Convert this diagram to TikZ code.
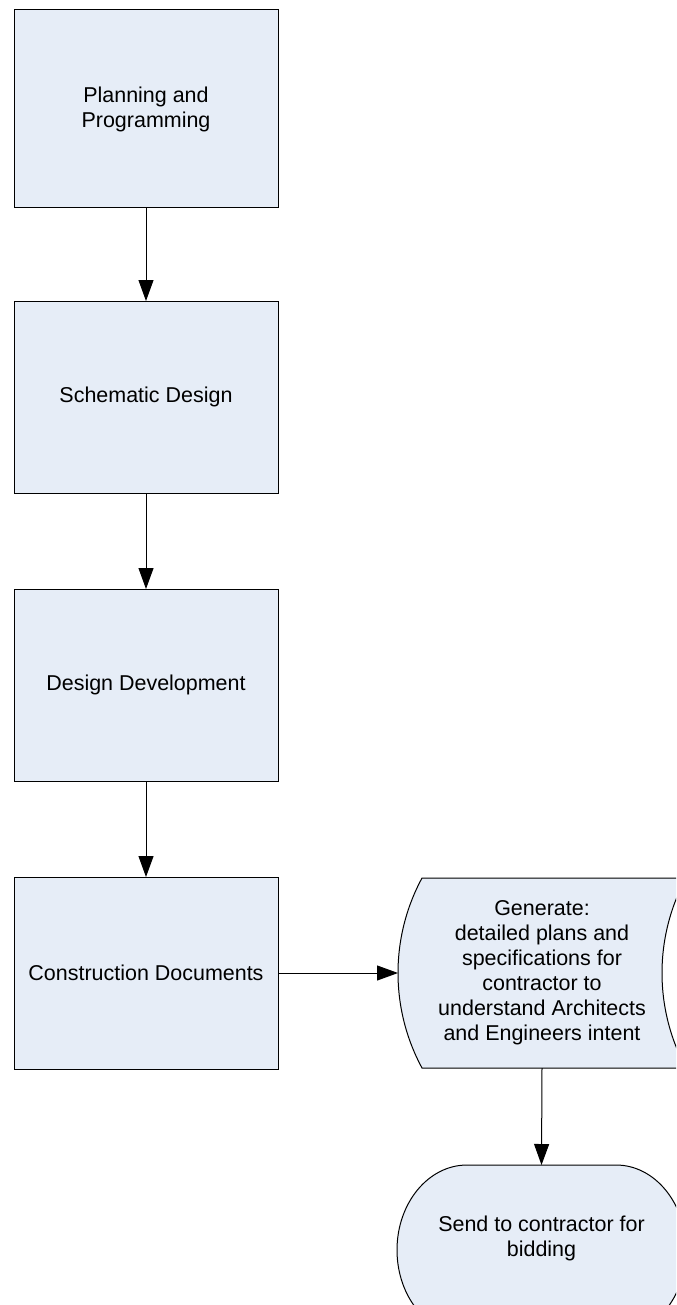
\documentclass[tikz,border=0pt]{standalone}
\usepackage{fontspec}
\setmainfont{Liberation Sans}
\usetikzlibrary{arrows.meta}
\definecolor{boxfill}{RGB}{230,237,247}
\begin{document}
\begin{tikzpicture}[x=0.75pt,y=-0.75pt,
  txtfont/.style={font=\fontsize{16.1pt}{18.75pt}\selectfont},
  stage/.style={draw=black,line width=0.75pt,fill=boxfill,
    minimum width=198pt,minimum height=144pt,inner sep=0pt,outer sep=0pt,
    align=center,txtfont},
  txt/.style={inner sep=0pt,outer sep=0pt,align=center,txtfont},
  outline/.style={draw=black,line width=0.75pt,fill=boxfill},
  flow/.style={draw=black,line width=0.75pt,-{Triangle[width=11.25pt,length=15.75pt]}}
]
\useasboundingbox (0,0) rectangle (676,1305);
\clip (0,0) rectangle (676,1305);

% design phases
\node[stage,minimum height=148.5pt] (plan) at (146,109) {Planning and\\Programming};
\node[stage] (schem) at (146,397) {Schematic Design};
\node[stage] (devel) at (146,685) {Design Development};
\node[stage] (docs) at (146,973) {Construction Documents};

% stored-data shape for the generated documents
\path[outline] (422,878) -- (686,878)
  .. controls (654,937.3) and (654,1008.7) .. (686,1068)
  -- (422,1068)
  .. controls (390,1008.7) and (390,937.3) .. (422,878) -- cycle;
\node[txt,minimum width=216pt,minimum height=142.5pt] (gen) at (542,973)
  {Generate:\\detailed plans and\\specifications for\\contractor to\\understand Architects\\and Engineers intent};

% terminator
\path[outline] (467,1165) -- (616,1165)
  .. controls (654.7,1165) and (686,1203.1) .. (686,1250)
  .. controls (686,1296.9) and (654.7,1335) .. (616,1335)
  -- (467,1335)
  .. controls (428.3,1335) and (397,1296.9) .. (397,1250)
  .. controls (397,1203.1) and (428.3,1165) .. (467,1165) -- cycle;
\node[txt,minimum width=216.75pt,minimum height=109.5pt] (send) at (541.5,1238)
  {Send to contractor for\\bidding};

% connectors
\draw[flow] (plan.south) -- (schem.north);
\draw[flow] (schem.south) -- (devel.north);
\draw[flow] (devel.south) -- (docs.north);
\draw[flow] (docs.east) -- (gen.west);
\draw[flow] (gen.south) -- (send.north);
\end{tikzpicture}
\end{document}
